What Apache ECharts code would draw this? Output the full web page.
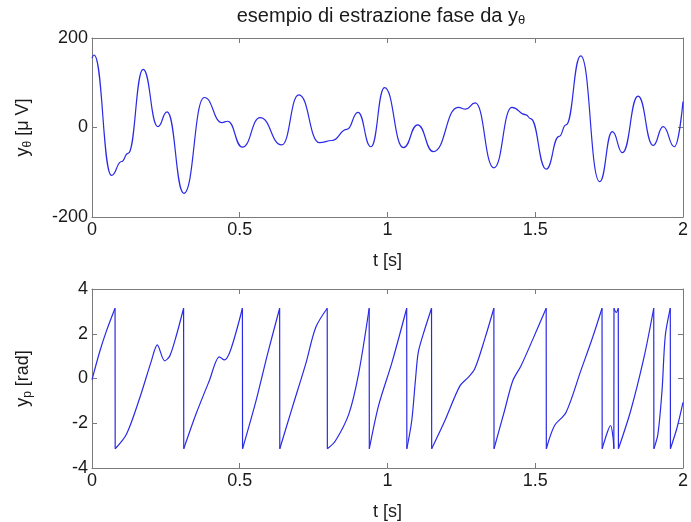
<!DOCTYPE html>
<html>
<head>
<meta charset="utf-8">
<script src="https://cdn.jsdelivr.net/npm/echarts@6/dist/echarts.min.js"></script>
<style>
  html, body { margin: 0; padding: 0; background: #fff; }
  #c { width: 691px; height: 522px; }
</style>
</head>
<body>
<div id="c"></div>
<script>
// theta-band signal (µV) at its turning points
const thetaT = [0.000, 0.007, 0.066, 0.100, 0.122, 0.173, 0.223, 0.254, 0.311, 0.380, 0.440, 0.459, 0.509,
  0.569, 0.642, 0.700, 0.770, 0.812, 0.863, 0.900, 0.944, 0.990, 1.054, 1.102, 1.155, 1.239, 1.264,
  1.297, 1.360, 1.421, 1.469, 1.484, 1.537, 1.581, 1.604, 1.654, 1.718, 1.761, 1.795, 1.848, 1.899,
  1.933, 1.971, 2.000];
const thetaY = [155, 162, -107, -76, -58, 130, 2, 35, -147, 67, 11, 14, -44,
  22, -39, 73, -34, -29, -4, 34, -43, 89, -45, 6, -54, 45, 41,
  55, -90, 45, 28, 20, -93, -20, 6, 160, -121, -9, -56, 70, -40,
  2, -43, 58];

// extracted phase (rad), wrapped to [-pi, pi]
const PI = 3.14;
const phaseT = [0.000, 0.027, 0.049, 0.078, 0.0785, 0.117, 0.162, 0.201, 0.221, 0.246, 0.263, 0.285, 0.310, 0.3105,
  0.352, 0.397, 0.431, 0.448, 0.470, 0.509, 0.5095, 0.555, 0.594, 0.635, 0.6355, 0.678, 0.723, 0.757, 0.796, 0.7965,
  0.824, 0.869, 0.902, 0.938, 0.9385, 0.970, 1.015, 1.065, 1.0655, 1.082, 1.095, 1.104, 1.121, 1.149, 1.1495,
  1.194, 1.245, 1.273, 1.295, 1.329, 1.360, 1.3605, 1.396, 1.424, 1.452, 1.492, 1.537, 1.5375,
  1.565, 1.604, 1.654, 1.694, 1.726, 1.7265, 1.744, 1.755, 1.763, 1.766, 1.7665, 1.774, 1.781, 1.7815,
  1.823, 1.868, 1.901, 1.9015, 1.915, 1.929, 1.940, 1.957, 1.9575, 1.980, 2.000];
const phaseY = [-0.05, 1.24, 2.13, PI, -PI, -2.48, -0.85, 0.79, 1.5, 0.79, 1.0, 1.9, PI, -PI,
  -1.59, -0.1, 0.97, 0.83, 1.31, PI, -PI, -1.0, 1.09, PI, -PI, -1.29, 0.64, 2.28, PI, -PI,
  -2.78, -1.59, 0.2, PI, -PI, -1.2, 0.71, PI, -PI, -1.89, 0.0, 1.16, 1.98, PI, -PI,
  -1.89, -0.33, 0.05, 0.42, 1.76, PI, -PI, -1.44, -0.1, 0.57, 1.76, PI, -PI,
  -2.11, -1.52, 0.34, 1.83, PI, -PI, -2.4, -2.1, -2.6, -PI, PI, 2.95, PI, -PI,
  -1.44, 0.94, PI, -PI, -2.5, -0.55, 1.9, PI, -PI, -2.19, -1.07];

// axis ticks
const timeTicks = { min: 0, max: 2, interval: 0.5 };
const thetaTicks = { min: -200, max: 200, interval: 200 };
const phaseTicks = { min: -4, max: 4, interval: 2 };

const zip = (xs, ys) => xs.map((x, i) => [x, ys[i]]);

// Split the wrapped phase into continuous ramps and the vertical wrap jumps
function splitPhase(xs, ys) {
  const ramps = [], jumps = [];
  for (let i = 0; i < xs.length; i++) {
    ramps.push([xs[i], ys[i]]);
    if (i + 1 < xs.length && Math.abs(ys[i + 1] - ys[i]) > PI) {
      ramps.push([xs[i], null]);
      jumps.push([xs[i], ys[i]], [xs[i + 1], ys[i + 1]], [xs[i + 1], null]);
    }
  }
  return { ramps, jumps };
}
const phaseParts = splitPhase(phaseT, phaseY);

const FONT = 'Liberation Sans';
const AX = '#7a7a7a';
const TXT = '#1a1a1a';
const LINE = '#2a2ae6';

const nameRich = {
  n: { fontSize: 18, fontFamily: FONT, color: TXT, lineHeight: 22, verticalAlign: 'middle' },
  s: { fontSize: 12, fontFamily: FONT, color: TXT, lineHeight: 12, verticalAlign: 'bottom' }
};
const titleRich = {
  n: { fontSize: 20, fontFamily: FONT, color: TXT, lineHeight: 22, verticalAlign: 'middle' },
  s: { fontSize: 13, fontFamily: FONT, color: TXT, lineHeight: 12, verticalAlign: 'bottom' }
};

function xAx(grid, bottom) {
  return {
    type: 'value', gridIndex: grid, position: bottom ? 'bottom' : 'top',
    min: timeTicks.min, max: timeTicks.max, interval: timeTicks.interval,
    axisLine: { show: true, onZero: false, lineStyle: { color: AX, width: 1 } },
    axisTick: { show: true, inside: true, length: 5, lineStyle: { color: AX } },
    axisLabel: { show: bottom, fontSize: 18, fontFamily: FONT, color: TXT, margin: 4 },
    splitLine: { show: false },
    name: bottom ? 't [s]' : '', nameLocation: 'middle', nameGap: 35,
    nameTextStyle: { fontSize: 18, fontFamily: FONT, color: TXT }
  };
}
function yAx(grid, left, ticks, name) {
  return {
    type: 'value', gridIndex: grid, position: left ? 'left' : 'right',
    min: ticks.min, max: ticks.max, interval: ticks.interval,
    axisLine: { show: true, onZero: false, lineStyle: { color: AX, width: 1 } },
    axisTick: { show: true, inside: true, length: 5, lineStyle: { color: AX } },
    axisLabel: { show: left, fontSize: 18, fontFamily: FONT, color: TXT, margin: 4 },
    splitLine: { show: false },
    name: left ? name : '', nameLocation: 'middle', nameGap: 58, nameRotate: 90,
    nameTextStyle: { rich: nameRich }
  };
}

const chart = echarts.init(document.getElementById('c'), null, { renderer: 'canvas' });
chart.setOption({
  animation: false,
  backgroundColor: '#ffffff',
  grid: [
    { left: 92, top: 38, width: 594, height: 179 },
    { left: 92, top: 289, width: 594, height: 179 }
  ],
  xAxis: [xAx(0, true), xAx(0, false), xAx(1, true), xAx(1, false)],
  yAxis: [
    yAx(0, true, thetaTicks, '{n|y}{s|θ}{n| [μ V]}'),
    yAx(0, false, thetaTicks, ''),
    yAx(1, true, phaseTicks, '{n|y}{s|p}{n| [rad]}'),
    yAx(1, false, phaseTicks, '')
  ],
  graphic: [{
    type: 'text', x: 381, y: 16,
    style: {
      text: '{n|esempio di estrazione fase da y}{s|θ}',
      rich: titleRich, fill: TXT, align: 'center', verticalAlign: 'middle'
    }
  }],
  series: [
    {
      type: 'line', xAxisIndex: 0, yAxisIndex: 0, data: zip(thetaT, thetaY),
      smooth: 0.5, smoothMonotone: 'x', showSymbol: false,
      lineStyle: { color: LINE, width: 1.2 }
    },
    {
      type: 'line', xAxisIndex: 2, yAxisIndex: 2, data: phaseParts.ramps,
      smooth: 0.3, connectNulls: false, showSymbol: false,
      lineStyle: { color: LINE, width: 1.2 }
    },
    {
      type: 'line', xAxisIndex: 2, yAxisIndex: 2, data: phaseParts.jumps,
      smooth: false, connectNulls: false, showSymbol: false,
      lineStyle: { color: LINE, width: 1.2 }
    }
  ]
});
</script>
</body>
</html>
